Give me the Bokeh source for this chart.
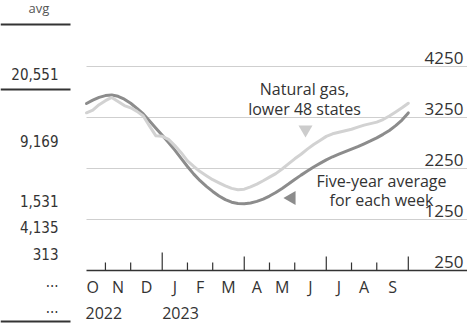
import math
import pandas as pd
from bokeh.plotting import figure
from bokeh.models import Range1d
from bokeh.core.properties import value
from bokeh.embed import file_html
from bokeh.resources import INLINE

# ---------------- data ----------------
week_ending = pd.date_range("2022-10-14", "2023-10-06", freq="7D")

storage = [3342, 3394, 3501, 3580, 3644, 3564, 3483, 3440, 3370, 3280,
           3080, 2890, 2880, 2820, 2700, 2560, 2400, 2290, 2190, 2110,
           2030, 1970, 1910, 1860, 1835, 1845, 1890, 1945, 2010, 2080,
           2150, 2240, 2340, 2440, 2530, 2630, 2720, 2800, 2880, 2930,
           2960, 2990, 3020, 3060, 3100, 3130, 3160, 3210, 3280, 3360,
           3440, 3530]

five_year_avg = [3525, 3590, 3645, 3680, 3690, 3665, 3610, 3530, 3430, 3320,
                 3180, 3040, 2900, 2760, 2610, 2450, 2290, 2140, 2010, 1900,
                 1800, 1710, 1640, 1590, 1565, 1560, 1575, 1605, 1650, 1710,
                 1780, 1860, 1945, 2035, 2120, 2200, 2280, 2350, 2420, 2480,
                 2530, 2580, 2630, 2680, 2735, 2790, 2850, 2920, 2995, 3090,
                 3200, 3340]

y_ticks = [250, 1250, 2250, 3250, 4250]
month_labels = ["O", "N", "D", "J", "F", "M", "A", "M", "J", "J", "A", "S"]
year_labels = ["2022", "2023"]
table_header = "avg"
table_values = ["20,551", "9,169", "1,531", "4,135", "313", "...", "..."]

series_labels = ["Natural gas,\nlower 48 states", "Five-year average\nfor each week"]

# ---------------- layout helpers (pixel -> data) ----------------
W, H = 467, 323
PX_X0 = 86.0          # pixel x of first week
PX_WEEK = 6.31        # pixels per week
PX_YBASE = 270.0      # pixel y of baseline value
PX_UNIT = 0.051       # pixels per bcf
BASE = y_ticks[0]
TXT_SHIFT = 7.0       # correction for text baseline placement


def X(px):
    return (px - PX_X0) / PX_WEEK


def Y(py):
    return BASE + (PX_YBASE - py) / PX_UNIT


def TY(py):
    return Y(py - TXT_SHIFT)


def DY(dpx):
    return dpx / PX_UNIT


start = week_ending[0]


def widx(d):
    return (pd.Timestamp(d) - start).days / 7.0


def first_friday(year, month):
    days = pd.date_range(pd.Timestamp(year=year, month=month, day=1), periods=7)
    return [d for d in days if d.weekday() == 4][0]


idx = list(range(len(week_ending)))

p = figure(width=W, height=H, output_backend="svg", toolbar_location=None,
           x_range=Range1d(X(0), X(W)), y_range=Range1d(Y(H), Y(0)),
           x_axis_location=None, y_axis_location=None, min_border=0,
           outline_line_color=None, background_fill_color="white",
           border_fill_color="white")
p.grid.visible = False

TEXT = "#333333"
SANS = value("Open Sans")
NARROW = value("Liberation Sans Narrow, DejaVu Sans Condensed, Roboto, sans-serif")

# gridlines
grid_vals = y_ticks[1:]
p.segment(x0=[X(PX_X0)] * len(grid_vals), x1=[X(W)] * len(grid_vals),
          y0=grid_vals, y1=grid_vals, line_color="#cfcfcf", line_width=1.2)

# lines
p.line(idx, five_year_avg, line_color="#8c8c8c", line_width=3, line_join="round", line_cap="round")
p.line(idx, storage, line_color="#d2d2d2", line_width=3, line_join="round", line_cap="round")

# baseline axis
p.segment(x0=[X(PX_X0)], x1=[X(W)], y0=[BASE], y1=[BASE], line_color="#333333", line_width=1.5)

# month ticks at first week of each month
months = [(2022, 11), (2022, 12), (2023, 1), (2023, 2), (2023, 3), (2023, 4), (2023, 5),
          (2023, 6), (2023, 7), (2023, 8), (2023, 9), (2023, 10)]
tx, ty1 = [], []
for (yy, mm) in months:
    xi = widx(first_friday(yy, mm))
    h = 18 if mm == 1 else (14 if mm in (4, 7, 10) else 8)
    tx.append(xi)
    ty1.append(BASE + DY(h))
p.segment(x0=tx, x1=tx, y0=[BASE] * len(tx), y1=ty1, line_color="#333333", line_width=1.2)

# month labels centred in their intervals
all_months = [(2022, 10)] + months
centers = []
for k in range(len(month_labels)):
    a = widx(first_friday(*all_months[k]))
    b = widx(first_friday(*all_months[k + 1]))
    centers.append((a + b) / 2)
p.text(x=centers, y=[TY(293)] * len(centers), text=month_labels, text_font=SANS,
       text_font_size="16px", text_align="center", text_baseline="alphabetic", text_color=TEXT)

# year labels
p.text(x=[X(85), widx(first_friday(2023, 1))], y=[TY(319)] * 2, text=year_labels, text_font=SANS,
       text_font_size="16px", text_align="left", text_baseline="alphabetic", text_color=TEXT)

# right-side y labels sitting on gridlines
p.text(x=[X(463)] * len(y_ticks), y=[v + DY(2 + TXT_SHIFT) for v in y_ticks],
       text=[str(v) for v in y_ticks],
       text_font=SANS, text_font_size="17px", text_align="right", text_baseline="alphabetic",
       text_color=TEXT)

# annotations
p.text(x=[X(304)], y=[TY(95)], text=[series_labels[0].split("\n")[0]], text_font=SANS,
       text_font_size="16px", text_align="center", text_baseline="alphabetic", text_color=TEXT)
p.text(x=[X(304)], y=[TY(115)], text=[series_labels[0].split("\n")[1]], text_font=SANS,
       text_font_size="16px", text_align="center", text_baseline="alphabetic", text_color=TEXT)
p.text(x=[X(381)], y=[TY(187)], text=[series_labels[1].split("\n")[0]], text_font=SANS,
       text_font_size="16px", text_align="center", text_baseline="alphabetic", text_color=TEXT)
p.text(x=[X(381)], y=[TY(206)], text=[series_labels[1].split("\n")[1]], text_font=SANS,
       text_font_size="16px", text_align="center", text_baseline="alphabetic", text_color=TEXT)

p.scatter(x=[X(305)], y=[Y(129)], marker="inverted_triangle", size=14,
          fill_color="#cccccc", line_color=None)
p.scatter(x=[X(291)], y=[Y(197.5)], marker="triangle", angle=math.pi / 2, size=14,
          fill_color="#8c8c8c", line_color=None)

# left table (neighbouring panel)
p.text(x=[X(38.5)], y=[TY(14)], text=[table_header], text_font=SANS, text_font_size="13px",
       text_align="center", text_baseline="alphabetic", text_color="#555555")
rows_px = [80, 147, 207, 233, 260, 287, 313]
p.text(x=[X(58)] * len(table_values), y=[TY(r) for r in rows_px], text=table_values,
       text_font=NARROW, text_font_size="15px", text_align="right", text_baseline="alphabetic",
       text_color=TEXT)
rule_y = [Y(24), Y(89), Y(321)]
p.segment(x0=[X(0)] * 3, x1=[X(70)] * 3, y0=rule_y, y1=rule_y, line_color="#333333", line_width=2)

open("out.html", "w").write(file_html(p, INLINE))
